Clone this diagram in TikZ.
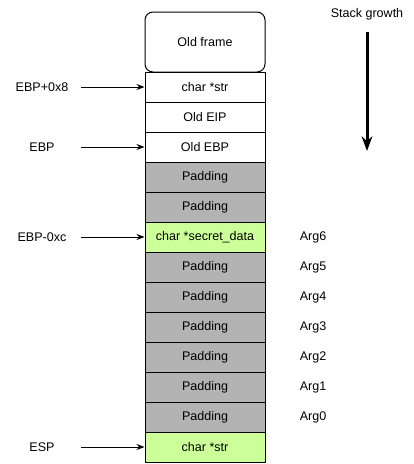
\documentclass[tikz,border=0pt]{standalone}
\usepackage{fontspec}
\setmainfont{Liberation Sans}
\usepackage{xcolor}
\usetikzlibrary{arrows.meta, positioning}

\definecolor{padgray}{HTML}{B3B3B3}
\definecolor{argreen}{HTML}{CCFF99}

\begin{document}
\begin{tikzpicture}[
    x=0.75pt, y=-0.75pt,
    cell_node/.style={
        rectangle,
        draw=black,
        fill=white,
        line width=0.75pt,
        minimum width=90pt,
        minimum height=22.5pt,
        inner sep=0pt,
        align=center,
        font=\fontsize{9.4}{11}\selectfont
    },
    pad_node/.style={cell_node, fill=padgray},
    data_node/.style={cell_node, fill=argreen},
    lbl_node/.style={
        minimum width=58.5pt,
        inner sep=0pt,
        align=center,
        font=\fontsize{9.4}{11}\selectfont
    },
    arg_node/.style={inner sep=0pt, font=\fontsize{9.4}{11}\selectfont},
    arrow/.style={-{Stealth[length=6pt, width=4.5pt]}, line width=0.75pt, black},
    growth_arrow/.style={-{Stealth[length=11pt, width=8pt]}, line width=2.25pt, black}
]
    \useasboundingbox (0,0) rectangle (414,464);

    % Stack cells, top to bottom
    \node[cell_node, minimum height=45pt, rounded corners=6pt] (oldframe) at (205, 42) {Old frame};
    \node[cell_node] (str) at (205, 87) {char *str};
    \node[cell_node] (eip) at (205, 117) {Old EIP};
    \node[cell_node] (oldebp) at (205, 147) {Old EBP};
    \node[pad_node] (pad1) at (205, 177) {Padding};
    \node[pad_node] (pad2) at (205, 207) {Padding};
    \node[data_node] (secret) at (205, 237) {char *secret\_data};
    \node[pad_node] (pad3) at (205, 267) {Padding};
    \node[pad_node] (pad4) at (205, 297) {Padding};
    \node[pad_node] (pad5) at (205, 327) {Padding};
    \node[pad_node] (pad6) at (205, 357) {Padding};
    \node[pad_node] (pad7) at (205, 387) {Padding};
    \node[pad_node] (pad8) at (205, 417) {Padding};
    \node[data_node] (argstr) at (205, 447) {char *str};

    % Argument labels
    \node[arg_node] (arg6) at (313, 237) {Arg6};
    \node[arg_node] (arg5) at (313, 267) {Arg5};
    \node[arg_node] (arg4) at (313, 297) {Arg4};
    \node[arg_node] (arg3) at (313, 327) {Arg3};
    \node[arg_node] (arg2) at (313, 357) {Arg2};
    \node[arg_node] (arg1) at (313, 387) {Arg1};
    \node[arg_node] (arg0) at (313, 417) {Arg0};

    % Register labels
    \node[lbl_node] (ebpplus) at (42, 87) {EBP+0x8};
    \node[lbl_node] (ebp) at (42, 147) {EBP};
    \node[lbl_node] (ebpminus) at (42, 237) {EBP-0xc};
    \node[lbl_node] (esp) at (42, 447) {ESP};

    % Arrows
    \draw[arrow] (ebpplus) -- (str);
    \draw[arrow] (ebp) -- (oldebp);
    \draw[arrow] (ebpminus) -- (secret);
    \draw[arrow] (esp) -- (argstr);

    % Stack growth
    \node[arg_node] (growth) at (367, 14) {Stack growth};
    \coordinate (growth_start) at (367, 32);
    \coordinate (growth_end) at (367, 151);
    \draw[growth_arrow] (growth_start) -- (growth_end);

\end{tikzpicture}
\end{document}
